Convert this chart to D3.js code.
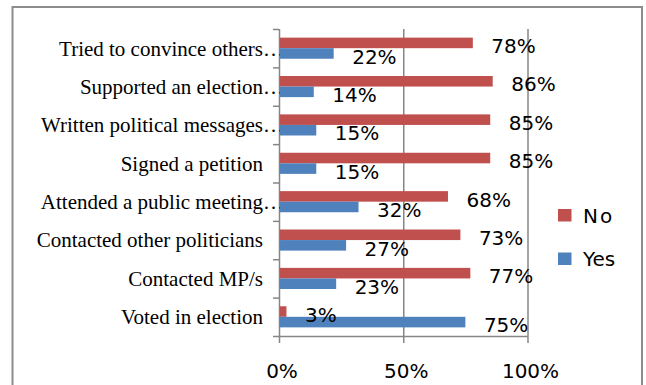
<!DOCTYPE html>
<html>
<head>
<meta charset="utf-8">
<script src="https://cdn.jsdelivr.net/npm/d3@7"></script>
<style>
  body { margin: 0; background: #fff; }
  svg { display: block; }
</style>
</head>
<body>
<svg width="646" height="385"></svg>
<script>
// Chart data
var categories = [
    'Tried to convince others\u2026',
    'Supported an election\u2026',
    'Written political messages\u2026',
    'Signed a petition',
    'Attended a public meeting\u2026',
    'Contacted other politicians',
    'Contacted MP/s',
    'Voted in election'
];
var noValues  = [0.78, 0.86, 0.85, 0.85, 0.68, 0.73, 0.77, 0.03];
var yesValues = [0.22, 0.14, 0.15, 0.15, 0.32, 0.27, 0.23, 0.75];
var seriesNames = ['No', 'Yes'];
var xTicks = [0, 0.5, 1];

var svg = d3.select('svg');
var svgWidth = +svg.attr('width');
var svgHeight = +svg.attr('height');

var colors = {No: '#C0504D', Yes: '#4F81BD'};
var axisColor = '#868686';

// Plot area
var plot = {l: 279, r: 527.5, t: 29, b: 336};

// Outer chart border
svg.append('rect')
    .attr('x', 12.5).attr('y', 7)
    .attr('width', 629.5).attr('height', 385)
    .attr('fill', 'none')
    .attr('stroke', '#8c8c8c')
    .attr('stroke-width', 2);

var x = d3.scaleLinear().domain([0, 1]).range([plot.l, plot.r]);

var y = d3.scaleBand()
    .domain(categories)
    .range([plot.t, plot.b])
    .paddingInner(0.45)
    .paddingOuter(0.225);

var ySub = d3.scaleBand()
    .domain(seriesNames)
    .range([0, y.bandwidth()]);

// Build rows from the arrays
var rows = categories.map(function(c, i) {
    return {cat: c, values: [
        {key: 'No', value: noValues[i]},
        {key: 'Yes', value: yesValues[i]}
    ]};
});

// Vertical gridlines (incl. tick marks below the axis)
var grid = svg.append('g')
    .attr('transform', 'translate(0,' + (plot.b + 7) + ')')
    .call(d3.axisBottom(x).tickValues(xTicks).tickSize(-(plot.b + 7 - plot.t)).tickFormat(''));
grid.select('.domain').remove();
grid.selectAll('line').attr('stroke', axisColor).attr('stroke-width', 1.5);

// Category axis ticks at band boundaries
var yTickScale = d3.scaleLinear().domain([0, categories.length]).range([plot.t, plot.b]);
var yAxisG = svg.append('g')
    .attr('transform', 'translate(' + plot.l + ',0)')
    .call(d3.axisLeft(yTickScale).ticks(categories.length).tickSize(6).tickSizeOuter(0).tickFormat(''));
yAxisG.select('.domain').remove();
yAxisG.selectAll('line').attr('stroke', axisColor).attr('stroke-width', 1.5);

// Value axis
var xAxisG = svg.append('g')
    .attr('transform', 'translate(0,' + plot.b + ')')
    .call(d3.axisBottom(x).tickValues(xTicks).tickSize(0).tickPadding(28).tickFormat(d3.format('.0%')));
xAxisG.select('.domain')
    .attr('stroke', axisColor).attr('stroke-width', 1.5);
xAxisG.selectAll('text')
    .attr('dx', 2.5)
    .attr('fill', '#000')
    .style('font-family', '"DejaVu Sans", sans-serif')
    .style('font-size', '20px');

// Category labels
svg.append('g').selectAll('text')
    .data(categories)
    .enter().append('text')
    .attr('x', 263)
    .attr('dx', function(d) { return d.indexOf('\u2026') >= 0 ? 21 : 0; })
    .attr('y', function(d) { return y(d) + y.bandwidth() / 2; })
    .attr('dy', '0.35em')
    .attr('text-anchor', 'end')
    .style('font-family', '"Liberation Serif", "Times New Roman", serif')
    .style('font-size', '21px')
    .attr('fill', '#000')
    .text(function(d) { return d; });

// Bars
var groups = svg.append('g').selectAll('.group')
    .data(rows)
    .enter().append('g')
    .attr('class', 'group')
    .attr('transform', function(d) { return 'translate(0,' + y(d.cat) + ')'; });

groups.selectAll('rect')
    .data(function(d) { return d.values; })
    .enter().append('rect')
    .attr('x', x(0) + 0.75)
    .attr('y', function(d) { return ySub(d.key); })
    .attr('width', function(d) { return x(d.value) - x(0) - 0.75; })
    .attr('height', ySub.bandwidth())
    .attr('fill', function(d) { return colors[d.key]; });

// Data labels
groups.selectAll('.label')
    .data(function(d) { return d.values; })
    .enter().append('text')
    .attr('class', 'label')
    .attr('x', function(d) { return x(d.value) + 18.5; })
    .attr('y', function(d) { return ySub(d.key) + ySub.bandwidth() / 2 + 3; })
    .attr('dy', '0.36em')
    .style('font-family', '"DejaVu Sans", sans-serif')
    .style('font-size', '20px')
    .attr('fill', '#000')
    .text(function(d) { return d3.format('.0%')(d.value); });

// Legend
var legend = svg.append('g').selectAll('.legend')
    .data(seriesNames)
    .enter().append('g')
    .attr('class', 'legend')
    .attr('transform', function(d, i) { return 'translate(558,' + (209 + i * 43.5) + ')'; });

legend.append('rect')
    .attr('width', 13.5).attr('height', 12.5)
    .attr('fill', function(d) { return colors[d]; });

legend.append('text')
    .attr('x', 25)
    .attr('y', 6.5)
    .attr('dy', '0.36em')
    .style('font-family', '"DejaVu Sans", sans-serif')
    .style('font-size', '20px')
    .style('letter-spacing', function(d) { return d === 'No' ? '2px' : '0px'; })
    .attr('fill', '#000')
    .text(function(d) { return d; });
</script>
</body>
</html>
